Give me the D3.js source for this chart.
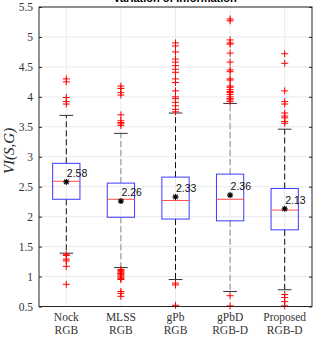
<!DOCTYPE html>
<html><head><meta charset="utf-8">
<script src="https://cdn.jsdelivr.net/npm/d3@7"></script>
<style>body{margin:0;background:#fff;}svg{display:block;}</style>
</head><body>
<svg id="c" width="321" height="340"></svg>
<script>
const categories = ["Nock","MLSS","gPb","gPbD","Proposed"];
const subLabels = ["RGB","RGB","RGB","RGB-D","RGB-D"];
const q1 = [2.29, 1.99, 1.96, 1.93, 1.78];
const medians = [2.59, 2.29, 2.27, 2.29, 2.11];
const q3 = [2.89, 2.56, 2.66, 2.71, 2.47];
const whiskLo = [1.39, 1.15, 0.95, 0.75, 0.78];
const whiskHi = [3.69, 3.39, 3.73, 3.89, 3.46];
const means = [2.58, 2.26, 2.33, 2.36, 2.13];
const outliers = [
  [4.30, 4.25, 3.99, 3.92, 3.88, 1.37, 1.35, 1.29, 1.26, 1.17, 0.87],
  [4.18, 4.14, 4.07, 4.03, 3.70, 3.60, 3.57, 3.55, 3.52, 1.12, 1.10, 1.08, 1.06, 1.05, 1.03, 1.01, 0.99, 0.97, 0.95, 0.75, 0.72, 0.67],
  [4.90, 4.85, 4.75, 4.63, 4.58, 4.52, 4.46, 4.41, 4.30, 4.24, 4.10, 4.00, 3.97, 3.91, 3.85, 3.79, 3.75, 0.89, 0.86, 0.52],
  [5.30, 5.27, 4.95, 4.90, 4.88, 4.73, 4.58, 4.45, 4.42, 4.30, 4.28, 4.18, 4.16, 4.12, 4.09, 4.07, 4.04, 4.00, 3.97, 3.95, 3.92, 0.68, 0.51],
  [4.72, 4.56, 4.10, 3.92, 3.88, 3.73, 3.68, 3.65, 3.59, 3.56, 0.70, 0.65, 0.58, 0.51]
];
const yTicks = [0.5,1,1.5,2,2.5,3,3.5,4,4.5,5,5.5];

const svg = d3.select("#c");
const L = 39, R = 312, T = 7, B = 306.5;
const x = d3.scaleBand().domain(categories).range([L, R]);
const y = d3.scaleLinear().domain([0.5, 5.5]).range([B, T]);
const bw = x.bandwidth()/2;
const cx = c => x(c) + x.bandwidth()/2;
const serif = "'Liberation Serif','DejaVu Serif',serif";

// grid
svg.append("g").selectAll("line").data(yTicks).join("line")
  .attr("x1", L).attr("x2", R).attr("y1", d=>y(d)).attr("y2", d=>y(d))
  .attr("stroke", "#ebebeb").attr("stroke-width", 1);
svg.append("g").selectAll("line").data(categories).join("line")
  .attr("x1", d=>cx(d)).attr("x2", d=>cx(d)).attr("y1", T).attr("y2", B)
  .attr("stroke", "#ebebeb").attr("stroke-width", 1);

const g = svg.append("g");
categories.forEach((c, i) => {
  const X = cx(c);
  const wc = (i % 2 === 1) ? "#8a8a8a" : "#111";
  g.append("line").attr("x1", X).attr("x2", X).attr("y1", y(q3[i])).attr("y2", y(whiskHi[i]))
    .attr("stroke", wc).attr("stroke-dasharray", "6,3");
  g.append("line").attr("x1", X).attr("x2", X).attr("y1", y(q1[i])).attr("y2", y(whiskLo[i]))
    .attr("stroke", wc).attr("stroke-dasharray", "6,3");
  [whiskHi[i], whiskLo[i]].forEach(v => {
    g.append("line").attr("x1", X - bw/4).attr("x2", X + bw/4).attr("y1", y(v)).attr("y2", y(v))
      .attr("stroke", "#333");
  });
  g.append("rect").attr("x", X - bw/2).attr("y", y(q3[i])).attr("width", bw).attr("height", y(q1[i]) - y(q3[i]))
    .attr("fill", "none").attr("stroke", "#3a3aff").attr("stroke-width", 1);
  g.append("line").attr("x1", X - bw/2).attr("x2", X + bw/2).attr("y1", y(medians[i])).attr("y2", y(medians[i]))
    .attr("stroke", "#ff4a4a");
  g.append("g").selectAll("path").data(outliers[i]).join("path")
    .attr("d", v => `M${X-3.5},${y(v)}H${X+3.5}M${X},${y(v)-3.5}V${y(v)+3.5}`)
    .attr("stroke", "#ff0000").attr("stroke-width", 1).attr("fill", "none");
  const my = y(means[i]);
  const s = 3;
  g.append("path")
    .attr("d", `M${X-s},${my}H${X+s}M${X},${my-s}V${my+s}M${X-s*0.75},${my-s*0.75}L${X+s*0.75},${my+s*0.75}M${X-s*0.75},${my+s*0.75}L${X+s*0.75},${my-s*0.75}`)
    .attr("stroke", "#000").attr("stroke-width", 1.1).attr("fill", "none");
  g.append("text").attr("x", X + 0.5).attr("y", my - 5)
    .attr("font-family", "'Liberation Sans',Arial,sans-serif").attr("font-size", 10.5)
    .attr("fill", "#111").text(means[i].toFixed(2));
});

svg.append("rect").attr("x", L).attr("y", T).attr("width", R-L).attr("height", B-T)
  .attr("fill", "none").attr("stroke", "#262626").attr("stroke-width", 1);

const yAxisL = d3.axisLeft(y).tickValues(yTicks).tickSize(-3).tickPadding(6).tickFormat(d3.format("~g"));
const ga = svg.append("g").attr("transform", `translate(${L},0)`).call(yAxisL);
ga.select(".domain").remove();
ga.selectAll("line").attr("stroke", "#262626");
ga.selectAll("text").attr("font-family", serif).attr("font-size", 11.5).attr("fill", "#333");
const yAxisR = d3.axisRight(y).tickValues(yTicks).tickSize(-3).tickFormat("");
const gr = svg.append("g").attr("transform", `translate(${R},0)`).call(yAxisR);
gr.select(".domain").remove();
gr.selectAll("line").attr("stroke", "#262626");

const xl = svg.append("g");
categories.forEach((c, i) => {
  const t = xl.append("text").attr("text-anchor", "middle")
    .attr("font-family", serif).attr("font-size", 11.5).attr("fill", "#333");
  t.append("tspan").attr("x", cx(c)).attr("y", 321).text(c);
  t.append("tspan").attr("x", cx(c)).attr("y", 334).text(subLabels[i]);
});

svg.append("text").attr("transform", "translate(14,151) rotate(-90)").attr("text-anchor", "middle")
  .attr("font-family", serif).attr("font-style", "italic").attr("font-size", 15).attr("fill", "#262626")
  .text("VI(S,G)");

svg.append("text").attr("x", 175).attr("y", 2).attr("text-anchor", "middle")
  .attr("font-family", "'Liberation Sans',Arial,sans-serif").attr("font-weight", "bold").attr("font-size", 11)
  .attr("fill", "#000").text("Variation of Information");
</script>
</body></html>
